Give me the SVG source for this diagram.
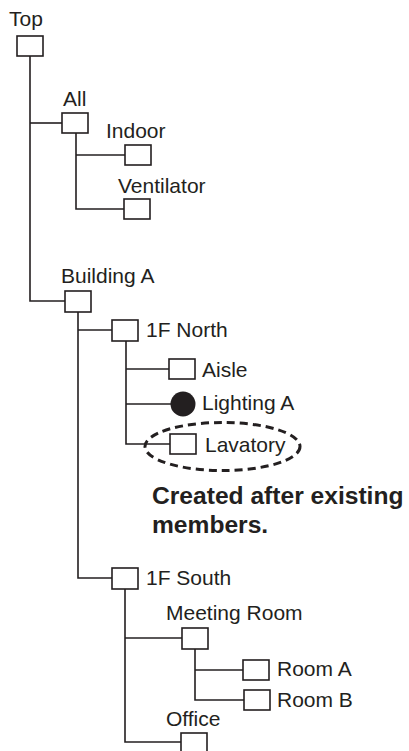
<svg xmlns="http://www.w3.org/2000/svg" width="409" height="751" viewBox="0 0 409 751">
<style>
.ln{fill:none;stroke:#231f20;stroke-width:1.6}
.bx{fill:#fff;stroke:#231f20;stroke-width:1.6}
.t{font-family:"Liberation Sans",Arial,sans-serif;font-size:21px;fill:#231f20}
.b{font-family:"Liberation Sans",Arial,sans-serif;font-size:24.6px;font-weight:bold;fill:#231f20}
.el{fill:none;stroke:#231f20;stroke-width:3;stroke-dasharray:8 5}
</style>
<rect width="409" height="751" fill="#fff"/>
<g id="connectors">
<path class="ln" d="M30,56 V301 H65"/>
<path class="ln" d="M30,123 H62"/>
<path class="ln" d="M76,133 V209 H124"/>
<path class="ln" d="M76,155 H125"/>
<path class="ln" d="M78,312 V578 H112"/>
<path class="ln" d="M78,330 H112"/>
<path class="ln" d="M126,341 V444 H170"/>
<path class="ln" d="M126,369 H169"/>
<path class="ln" d="M126,404 H171"/>
<path class="ln" d="M125,589 V742 H181"/>
<path class="ln" d="M125,638 H182"/>
<path class="ln" d="M195,649 V700 H244"/>
<path class="ln" d="M195,670 H243"/>
</g>
<g id="top"><text class="t" x="9" y="26">Top</text><rect class="bx" x="17" y="36" width="26" height="20"/></g>
<g id="all"><text class="t" x="63" y="106">All</text><rect class="bx" x="62" y="113" width="26" height="20"/></g>
<g id="indoor"><text class="t" x="106" y="138">Indoor</text><rect class="bx" x="125" y="145" width="26" height="20"/></g>
<g id="ventilator"><text class="t" x="118" y="193">Ventilator</text><rect class="bx" x="124" y="199" width="26" height="20"/></g>
<g id="building-a"><text class="t" x="61" y="283">Building A</text><rect class="bx" x="65" y="291" width="26" height="21"/></g>
<g id="north-1f"><rect class="bx" x="112" y="320" width="26" height="21"/><text class="t" x="146" y="337">1F North</text></g>
<g id="aisle"><rect class="bx" x="169" y="359" width="26" height="20"/><text class="t" x="202" y="377">Aisle</text></g>
<g id="lighting-a"><circle cx="183" cy="404" r="12.5" fill="#231f20"/><text class="t" x="202" y="410">Lighting A</text></g>
<g id="lavatory"><rect class="bx" x="170" y="434" width="26" height="20"/><text class="t" x="205" y="452">Lavatory</text></g>
<g id="created-note"><ellipse class="el" cx="222.5" cy="446.5" rx="77.5" ry="24"/><text class="b" x="152" y="504">Created after existing</text><text class="b" x="152" y="533">members.</text></g>
<g id="south-1f"><rect class="bx" x="112" y="568" width="26" height="21"/><text class="t" x="146" y="585">1F South</text></g>
<g id="meeting-room"><text class="t" x="166" y="620">Meeting Room</text><rect class="bx" x="182" y="628" width="26" height="21"/></g>
<g id="room-a"><rect class="bx" x="243" y="660" width="26" height="20"/><text class="t" x="277" y="676">Room A</text></g>
<g id="room-b"><rect class="bx" x="244" y="690" width="26" height="20"/><text class="t" x="277" y="707">Room B</text></g>
<g id="office"><text class="t" x="166" y="726">Office</text><rect class="bx" x="181" y="733" width="26" height="21"/></g>
</svg>
